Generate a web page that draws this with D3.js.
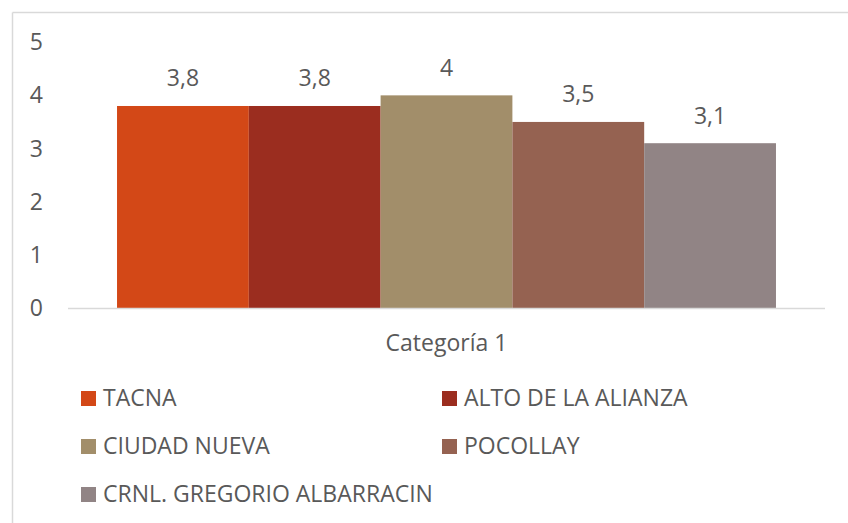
<!DOCTYPE html>
<html>
<head>
<meta charset="utf-8">
<script src="https://cdnjs.cloudflare.com/ajax/libs/d3/7.8.5/d3.min.js"></script>
<style>
  html, body { margin: 0; padding: 0; background: #ffffff; }
  svg { display: block; }
  text { font-family: "Open Sans", "DejaVu Sans", sans-serif; fill: #595959; }
</style>
</head>
<body>
<svg id="chart" width="848" height="523"></svg>
<script>
const categories = ["Categoría 1"];
const seriesNames = ["TACNA", "ALTO DE LA ALIANZA", "CIUDAD NUEVA", "POCOLLAY", "CRNL. GREGORIO ALBARRACIN"];
const seriesValues = [3.8, 3.8, 4, 3.5, 3.1];
const seriesColors = ["#D34817", "#9B2D1F", "#A28E6A", "#956251", "#918485"];
const yTicks = [0, 1, 2, 3, 4, 5];

const FS = 23;
const svg = d3.select("#chart");

// frame (top and left edges visible)
svg.append("line").attr("x1", 12.5).attr("x2", 848).attr("y1", 12.5).attr("y2", 12.5)
  .attr("stroke", "#d9d9d9").attr("stroke-width", 1.5);
svg.append("line").attr("x1", 12.5).attr("x2", 12.5).attr("y1", 12.5).attr("y2", 523)
  .attr("stroke", "#d9d9d9").attr("stroke-width", 1.5);

const plotLeft = 68, plotRight = 825, plotTop = 42.2, plotBottom = 308;

const y = d3.scaleLinear().domain([0, 5]).range([plotBottom, plotTop]);
const x0 = d3.scaleBand().domain(categories).range([plotLeft, plotRight]).padding(0);
const x1 = d3.scaleBand().domain(seriesNames).range([0, x0.bandwidth()])
  .paddingInner(0).paddingOuter(0.372);

// y tick labels
svg.append("g").selectAll("text").data(yTicks).join("text")
  .attr("x", 43).attr("y", d => y(d)).attr("dy", "0.35em")
  .attr("text-anchor", "end").attr("font-size", FS)
  .text(d => d);

// bars
const g = svg.append("g");
categories.forEach(cat => {
  g.selectAll("rect.bar").data(seriesNames.map((s, i) => ({ s, v: seriesValues[i], c: seriesColors[i] })))
    .join("rect").attr("class", "bar")
    .attr("x", d => x0(cat) + x1(d.s))
    .attr("width", x1.bandwidth())
    .attr("y", d => y(d.v))
    .attr("height", d => y(0) - y(d.v))
    .attr("fill", d => d.c);
  g.selectAll("text.val").data(seriesNames.map((s, i) => ({ s, v: seriesValues[i] })))
    .join("text").attr("class", "val")
    .attr("x", d => x0(cat) + x1(d.s) + x1.bandwidth() / 2)
    .attr("y", d => y(d.v) - 19.5)
    .attr("text-anchor", "middle").attr("font-size", FS)
    .text(d => String(d.v).replace(".", ","));
});

// baseline
svg.append("line").attr("x1", plotLeft).attr("x2", plotRight)
  .attr("y1", y(0) + 0.5).attr("y2", y(0) + 0.5)
  .attr("stroke", "#d9d9d9").attr("stroke-width", 1.5);

// category label
svg.append("g").selectAll("text").data(categories).join("text")
  .attr("x", d => x0(d) + x0.bandwidth() / 2).attr("y", 351)
  .attr("text-anchor", "middle").attr("font-size", FS)
  .text(d => d);

// legend
const legCols = [81, 442], legRows = [406, 454, 502], sq = 15;
const leg = svg.append("g").selectAll("g").data(seriesNames).join("g")
  .attr("transform", (d, i) => `translate(${legCols[i % 2]},${legRows[Math.floor(i / 2)]})`);
leg.append("rect").attr("x", 0).attr("y", -sq).attr("width", sq).attr("height", sq)
  .attr("fill", (d, i) => seriesColors[i]);
leg.append("text").attr("x", sq + 7).attr("y", 0).attr("font-size", FS).text(d => d);
</script>
</body>
</html>
